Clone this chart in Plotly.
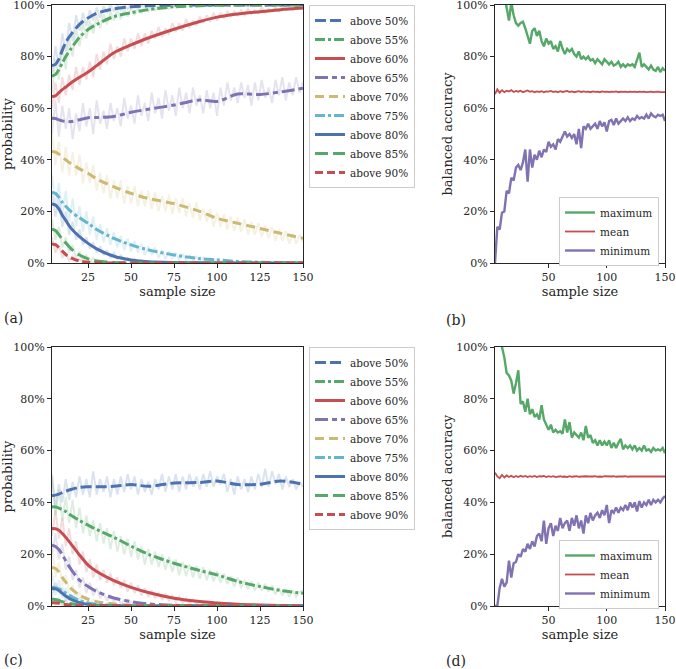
import plotly.graph_objects as go

# ---------------- data ----------------
x_raw = list(range(4, 151, 2))
x_smooth = [4, 6, 8, 10, 12, 15, 20, 25, 30, 40, 50, 60, 75, 90, 100, 112, 125, 137, 150]

labels = ["above 50%", "above 55%", "above 60%", "above 65%", "above 70%",
          "above 75%", "above 80%", "above 85%", "above 90%"]
colors = ["#4C72B0", "#55A868", "#C44E52", "#8172B2", "#CCB974",
          "#64B5CD", "#4C72B0", "#55A868", "#C44E52"]
dashes = ["11px,4px", "10px,3px,3px,3px", "solid", "13px,4px,5px,4px", "9px,5px",
          "10px,3px,3px,3px", "solid", "13px,5px", "8px,4px"]

# panel (a) smoothed curves
a50 = [76.5, 77, 79, 82.5, 85.5, 88.5, 92.5, 95, 96.8, 98.5, 99.3, 99.7, 99.9, 100, 100, 100, 100, 100, 100]
a55 = [72.5, 73, 75, 77.5, 80, 83, 87.5, 90.5, 92.5, 95.5, 97, 98.2, 99.3, 99.7, 99.9, 100, 100, 100, 100]
a60 = [64.5, 64.8, 66, 67.2, 68.2, 69.8, 72, 74, 76.5, 81.5, 84.5, 87.2, 90.6, 93.6, 95.3, 96.5, 97.4, 98.2, 98.8]
a65 = [56.1, 56, 55.5, 55.1, 54.9, 54.8, 55.5, 56.3, 56.4, 56.8, 58.4, 59.6, 61.2, 63.2, 62.6, 65.5, 65.3, 66.3, 67.7]
a70 = [43.2, 43, 42.2, 41, 40, 38.5, 36.5, 34.8, 32.6, 29.5, 27, 25, 23, 20, 17.3, 15.4, 13.4, 11.5, 9.6]
a75 = [27.3, 27, 25.5, 23.5, 22, 20, 17.5, 15.4, 13, 9.5, 7, 5.1, 3.1, 1.7, 1.2, 0.6, 0.3, 0.1, 0]
a80 = [22.9, 22.5, 21, 18.5, 16.5, 13.5, 10.2, 7.6, 5.5, 2.6, 1.2, 0.5, 0.2, 0.05, 0, 0, 0, 0, 0]
a85 = [13.1, 12.6, 11, 9.2, 7.8, 5.6, 3.1, 1.6, 0.8, 0.2, 0.05, 0, 0, 0, 0, 0, 0, 0, 0]
a90 = [7.4, 7.1, 6, 4.6, 3.3, 2, 0.8, 0.3, 0.1, 0, 0, 0, 0, 0, 0, 0, 0, 0, 0]

# panel (a) raw (noisy) curves, sampled every 2 from x=4
ra50 = [72, 84, 76, 89, 82, 93, 86, 96, 90, 97, 92, 98, 94, 99, 95, 99.5, 97, 100, 97.5, 100,
        98, 100, 98.5, 100, 99, 100, 99.5, 100, 99.5]
ra55 = [66, 79, 71, 84, 75, 87, 80, 91, 84, 93, 87, 94, 89, 96, 91, 96.5, 92.5, 97.5, 94, 98,
        94.5, 98.5, 95.5, 99, 96, 99, 97, 99.5, 97.5, 99.5, 98, 100, 98.5, 100, 98.5, 100, 99, 100,
        99, 100, 99.5, 100, 99.5, 100, 99.5, 100, 99.8]
ra60 = [60, 70, 62, 72, 65, 73, 67, 76, 69, 76, 71, 78, 72, 81, 75, 82, 77, 85, 79, 84,
        80, 87, 82, 87, 83, 89, 84, 89, 85, 90, 87, 91.5, 87.5, 91, 88.5, 93, 89.5, 93, 90, 94.5,
        91, 94, 92, 95.5, 93, 96, 93.5, 97, 94, 97, 95, 97.5, 95.5, 97.5, 96, 98, 96, 98.5,
        96.5, 98, 97, 99, 97, 98.5, 97.5, 99, 97.5, 99.5, 98, 99, 98, 99.5, 98.5, 99]
ra65 = [50, 63, 49, 61, 52, 60, 48, 58, 51, 62, 53, 60, 50, 63, 54, 59, 52, 62, 55, 60,
        53, 64, 56, 61, 54, 65, 57, 62, 55, 66, 58, 64, 56, 67, 59, 65, 57, 68, 60, 66,
        58, 68, 61, 65, 58, 67, 60, 66, 57, 68, 61, 70, 63, 68, 62, 70, 64, 69, 61, 70,
        63, 71, 64, 68, 62, 71, 65, 72, 63, 70, 65, 72, 66, 70]
ra70 = [50, 38, 47, 35, 45, 34, 43, 34, 42, 31, 39, 31, 38, 28, 35, 27, 34, 25, 32, 25,
        32, 23, 30, 23, 30, 22, 28, 22, 28, 21, 27.5, 20, 26, 20, 26.5, 19, 25, 19.5, 25, 18,
        23, 17.5, 23.5, 16.5, 21, 16, 21, 14, 19.5, 14, 19, 13, 18, 12.5, 17.5, 12, 17, 11,
        16, 11, 15.5, 10, 14.5, 9.5, 14, 8.5, 13, 8.5, 12.5, 7.5, 11.5, 7.5, 11, 8]
ra75 = [34, 22, 31, 18, 28, 16, 25, 14, 22, 12, 20, 11, 18, 9, 15, 8, 13.5, 7, 12, 6,
        10.5, 5, 9.5, 4.5, 8.5, 4, 7.5, 3, 6.5, 3, 6, 2, 5, 1.5, 4.5, 1.5, 4, 1, 3.5, 1,
        3, 0.8, 2.5, 0.5, 2, 0.5, 1.8, 0.3, 1.5, 0.3, 1.2, 0.2, 1, 0.2, 0.8, 0.1, 0.6, 0.1, 0.4]
ra80 = [27, 18, 25, 14, 20, 11, 16, 9, 13, 7, 10, 5.5, 8, 4, 6.5, 3, 5, 2, 4, 1.5,
        3, 1, 2, 0.5, 1.5, 0.3, 1, 0.2, 0.6]
ra85 = [17, 9, 14, 6, 10, 4, 7, 2, 4.5, 1, 3, 0.5, 2, 0.3, 1, 0.2, 0.6, 0.1, 0.3]
ra90 = [10, 4, 7, 2, 4, 1, 2.5, 0.5, 1.5, 0.2, 0.8, 0.1, 0.4, 0]

# panel (c) smoothed curves
c50 = [42.6, 42.8, 43.2, 43.8, 44.3, 45, 45.8, 46, 46, 46.2, 46.9, 46.2, 47.5, 47.7, 48.3, 46.9, 47, 48.3, 47]
c55 = [38.3, 38.2, 37.8, 37.2, 36.5, 35, 33, 31.2, 29.5, 26.5, 23.1, 20, 16.5, 13.7, 12, 9.5, 7.5, 6, 4.9]
c60 = [29.9, 29.8, 29.2, 28, 26.5, 24, 19.7, 15.8, 13.3, 9.8, 7.2, 5.2, 3, 1.7, 1.2, 0.7, 0.4, 0.2, 0.1]
c65 = [23.5, 23, 21.8, 19.8, 17.5, 14.2, 10, 7.5, 5.6, 3.1, 1.7, 0.8, 0.3, 0.1, 0, 0, 0, 0, 0]
c70 = [14.9, 14.5, 13.2, 11, 9.2, 6.8, 4.2, 2.6, 1.7, 0.8, 0.3, 0.1, 0, 0, 0, 0, 0, 0, 0]
c75 = [7.2, 7.1, 6.6, 5.8, 5, 3.8, 2.1, 1.2, 0.7, 0.2, 0.05, 0, 0, 0, 0, 0, 0, 0, 0]
c80 = [6.8, 6.6, 6, 4.9, 3.9, 2.6, 1.3, 0.6, 0.3, 0.05, 0, 0, 0, 0, 0, 0, 0, 0, 0]
c85 = [2.6, 2.5, 2.1, 1.7, 1.3, 0.9, 0.4, 0.2, 0.1, 0, 0, 0, 0, 0, 0, 0, 0, 0, 0]
c90 = [1.3, 1.25, 1.1, 0.8, 0.6, 0.4, 0.15, 0.05, 0, 0, 0, 0, 0, 0, 0, 0, 0, 0, 0]

# panel (c) raw (noisy) curves
rc50 = [50, 38, 47, 40, 49, 41, 48, 42, 50, 43, 49, 42, 52, 43, 49, 44, 50, 42, 49, 43,
        50, 44, 51, 45, 50, 43, 49, 44, 48, 43, 49, 45, 51, 44, 50, 45, 51, 44, 50, 45,
        51, 46, 50, 45, 51, 46, 52, 46, 50, 47, 51, 44, 49, 43, 50, 45, 49, 44, 50, 45,
        51, 46, 53, 46, 52, 47, 51, 45, 50, 46, 49, 45, 48, 46]
rc55 = [51, 35, 45, 33, 42, 32, 41, 30, 38, 28, 35, 27, 33, 25, 32, 24, 30, 22, 29, 21,
        27, 20, 26, 19, 25, 18, 23, 16, 22, 16, 21, 15, 20, 14, 19, 13, 18, 12, 17, 11.5,
        16, 11, 15.5, 10.5, 15, 10, 14, 9.5, 13.5, 9, 12.5, 8.5, 11.5, 7.5, 11, 7, 10, 6.5,
        9.5, 6, 9, 6, 8.5, 5.5, 8, 4.5, 7, 4, 6.5, 3.5, 6, 3.5, 5.5, 6]
rc60 = [27, 37, 26, 34, 23, 30, 20, 25, 16, 21, 13, 18, 11, 16, 10, 14, 9, 12.5, 8, 11,
        7, 10, 5.5, 9, 5, 8, 4, 7, 3.5, 6, 3, 5, 2.5, 4.5, 2, 4, 1.5, 3.5, 1.2, 3,
        1, 2.5, 0.8, 2, 0.6, 1.6, 0.5, 1.3, 0.4, 1, 0.3, 0.8, 0.2, 0.5]
rc65 = [20, 28, 18, 24, 14, 19, 10, 14, 7, 11, 5, 9, 4, 7, 3, 5, 2, 4, 1.5, 3,
        1, 2.2, 0.8, 1.8, 0.5, 1.2, 0.3, 0.8, 0.2]
rc70 = [22, 11, 17, 8, 12, 5, 8, 3, 5.5, 1.5, 3.5, 1, 2.5, 0.5, 1.5, 0.3, 1, 0.2, 0.5]
rc75 = [13, 4, 10, 3, 7, 2, 4.5, 1, 3, 0.5, 1.5, 0.3, 0.8, 0.1]
rc80 = [4, 9, 5, 7, 2, 4, 1, 2.5, 0.5, 1.5, 0.3, 0.8, 0.1, 0.4]
rc85 = [4, 1.5, 3, 1, 2, 0.5, 1, 0.2, 0.5]
rc90 = [2, 0.5, 1.5, 0.3, 0.8, 0.1, 0.3]

# panel (b) balanced accuracy (x = 4..150 step 2)
b_max = [112, 110, 108, 106, 104, 99, 94, 101, 96, 93, 92, 93, 93.5, 91, 88, 85, 90, 91, 88, 90,
         86, 84, 87, 85, 86, 83, 84, 82, 86, 83, 81, 83, 82, 83, 81, 80, 82, 79, 80, 79,
         80, 78.5, 79, 77.5, 79, 78, 77, 79, 78, 77, 78, 76.5, 77, 78, 76, 77, 76, 77,
         76.5, 77, 76, 79, 81.5, 76, 77, 76, 75, 76.5, 75, 74.5, 76, 74, 75.5, 74.5]
b_mean = [65.5, 67.3, 66, 67, 66.2, 66.8, 66.5, 67, 66.3, 66.7, 66.4, 66.8, 66.2, 66.6, 66.9, 66.4,
          66.6, 66.2, 66.5, 66.3, 66.6, 66.2, 66.5, 66.4, 66.7, 66.3, 66.5, 66.2, 66.6, 66.3,
          66.4, 66.7, 66.3, 66.5, 66.2, 66.4, 66.6, 66.3, 66.5, 66.3, 66.4, 66.2, 66.5, 66.3,
          66.4, 66.2, 66.5, 66.3, 66.4, 66.2, 66.4, 66.3, 66.5, 66.2, 66.4, 66.3, 66.4, 66.2,
          66.4, 66.3, 66.4, 66.2, 66.4, 66.3, 66.4, 66.2, 66.3, 66.4, 66.2, 66.3, 66.4, 66.2,
          66.3, 66.2]
b_min = [0, 14, 13, 19.5, 20, 28, 27, 33, 32, 37, 38, 36, 39, 44, 31.5, 44, 37, 42, 40, 43.5,
         41, 44, 43, 47, 45, 46, 44, 48, 47, 49, 51, 49, 50, 48.5, 50, 46, 52, 44.5, 53, 52,
         54, 52, 53, 54, 52, 55, 53, 54.5, 51, 55, 55.5, 53.5, 56, 54, 55, 56, 55, 56.5,
         55, 56, 55.5, 57, 56, 56.5, 56, 57.5, 56, 58, 57, 56.5, 57.5, 57, 57.5, 55]

# panel (d) balanced accuracy
d_max = [115, 112, 108, 100, 96, 90, 89, 87, 82, 86, 91, 78, 79, 75, 80, 74, 76, 73, 74, 72,
         77.5, 72, 70, 68, 70, 67, 68, 67, 67.5, 66.5, 72, 67, 71, 65, 67, 66, 65, 67, 64, 69.5,
         65, 66, 63, 64, 62, 64, 62, 63.5, 62, 64, 61, 63, 61, 63, 64.5, 60.5, 62, 61,
         62, 60.5, 62, 60, 61, 60, 62, 60, 60.5, 59.5, 61, 60, 60.5, 60, 61, 59]
d_mean = [51.5, 50, 49.3, 50.6, 49.6, 50.4, 49.8, 50.3, 49.7, 50.2, 49.8, 50.3, 49.9, 50.2, 49.8,
          50.1, 49.9, 50.2, 49.8, 50.1, 50, 50.2, 49.8, 50.1, 49.9, 50.1, 49.8, 50, 50.1, 49.9,
          50, 49.8, 50.1, 49.9, 50, 50.1, 49.9, 50, 49.9, 50.1, 50, 49.9, 50, 50.1, 49.9, 50,
          49.9, 50.1, 50, 49.9, 50, 50.1, 49.9, 50, 49.9, 50, 50.1, 49.9, 50, 50, 49.9, 50,
          50.1, 49.9, 50, 50, 49.9, 50, 50, 49.9, 50, 50, 49.9, 50]
d_min = [0, 0, 7, 10.5, 7.5, 9, 17.5, 11, 16.5, 17, 20, 19, 22, 21, 24, 22, 25, 23, 27, 28,
         25, 33, 24, 30, 32, 27, 31, 29, 34, 30, 32, 33, 29, 34, 31, 35, 30, 33, 28, 35,
         32, 36, 33, 35, 36, 34, 37, 35, 39, 32, 37, 36, 38, 36, 38, 37, 39, 37, 40, 38,
         40, 36.5, 40.5, 38, 40, 39, 41, 39, 41, 40, 41, 40, 41.5, 42.5]

acc_labels = ["maximum", "mean", "minimum"]
acc_colors = ["#55A868", "#C44E52", "#8172B2"]

x_ticks_left = [25, 50, 75, 100, 125, 150]
x_ticks_right = [50, 100, 150]
y_ticks = [0, 20, 40, 60, 80, 100]
y_ticktext = ["0%", "20%", "40%", "60%", "80%", "100%"]

smooth_a = [a50, a55, a60, a65, a70, a75, a80, a85, a90]
raw_a = [ra50, ra55, ra60, ra65, ra70, ra75, ra80, ra85, ra90]
smooth_c = [c50, c55, c60, c65, c70, c75, c80, c85, c90]
raw_c = [rc50, rc55, rc60, rc65, rc70, rc75, rc80, rc85, rc90]


def faint(hex_color, alpha=0.2):
    h = hex_color.lstrip("#")
    r, g, b = int(h[0:2], 16), int(h[2:4], 16), int(h[4:6], 16)
    return f"rgba({r},{g},{b},{alpha})"


fig = go.Figure()

for smooth, raw, xa, ya, leg in [(smooth_a, raw_a, "x", "y", "legend"),
                                 (smooth_c, raw_c, "x3", "y3", "legend2")]:
    for i in range(9):
        fig.add_trace(go.Scatter(
            x=x_raw[:len(raw[i])], y=raw[i], mode="lines",
            line=dict(color=faint(colors[i]), width=2),
            xaxis=xa, yaxis=ya, showlegend=False, hoverinfo="skip"))
    for i in range(9):
        fig.add_trace(go.Scatter(
            x=x_smooth, y=smooth[i], mode="lines", name=labels[i],
            line=dict(color=colors[i], width=3, dash=dashes[i], shape="spline", smoothing=0.8),
            xaxis=xa, yaxis=ya, legend=leg))

for series, xa, ya, leg in [((b_max, b_mean, b_min), "x2", "y2", "legend3"),
                            ((d_max, d_mean, d_min), "x4", "y4", "legend4")]:
    for j in range(3):
        fig.add_trace(go.Scatter(
            x=x_raw, y=series[j], mode="lines", name=acc_labels[j],
            line=dict(color=acc_colors[j], width=2.4 if j != 1 else 1.8),
            xaxis=xa, yaxis=ya, legend=leg))

FONT = "DejaVu Serif"
TXT = "#262626"
W, H = 676, 669

dom_x_left = [52 / W, 303 / W]
dom_x_right = [495 / W, 665 / W]
dom_y_top = [1 - 263 / H, 1 - 5 / H]
dom_y_bot = [1 - 606 / H, 1 - 347 / H]


def xax(domain, anchor, ticks):
    return dict(domain=domain, anchor=anchor, range=[4, 150], tickvals=ticks,
                automargin=False, ticklabeloverflow="allow",
                showline=True, mirror=True, linecolor=TXT, linewidth=1.2,
                ticks="outside", ticklen=4, tickwidth=1, tickcolor=TXT,
                showgrid=False, zeroline=False,
                tickfont=dict(family=FONT, size=11, color=TXT),
                title=dict(text="sample size", standoff=0,
                           font=dict(family=FONT, size=13, color=TXT)))


def yax(domain, anchor, title):
    return dict(domain=domain, anchor=anchor, range=[0, 100], tickvals=y_ticks, ticktext=y_ticktext,
                automargin=False, ticklabeloverflow="allow",
                showline=True, mirror=True, linecolor=TXT, linewidth=1.2,
                ticks="outside", ticklen=4, tickwidth=1, tickcolor=TXT,
                showgrid=False, zeroline=False,
                tickfont=dict(family=FONT, size=11, color=TXT),
                title=dict(text=title, standoff=0,
                           font=dict(family=FONT, size=13, color=TXT)))


def leg(x, y):
    return dict(x=x, y=y, xanchor="left", yanchor="top", bgcolor="white",
                bordercolor="#cccccc", borderwidth=1, tracegroupgap=0,
                font=dict(family=FONT, size=10.5, color=TXT), itemwidth=30)


fig.update_layout(
    template="none",
    width=W, height=H, margin=dict(l=0, r=0, t=0, b=0, pad=0),
    paper_bgcolor="white", plot_bgcolor="white",
    font=dict(family=FONT, color=TXT),
    xaxis=xax(dom_x_left, "y", x_ticks_left),
    yaxis=yax(dom_y_top, "x", "probability"),
    xaxis2=xax(dom_x_right, "y2", x_ticks_right),
    yaxis2=yax(dom_y_top, "x2", "balanced accuracy"),
    xaxis3=xax(dom_x_left, "y3", x_ticks_left),
    yaxis3=yax(dom_y_bot, "x3", "probability"),
    xaxis4=xax(dom_x_right, "y4", x_ticks_right),
    yaxis4=yax(dom_y_bot, "x4", "balanced accuracy"),
    legend=leg(309 / W, 1 - 5 / H),
    legend2=leg(309 / W, 1 - 347 / H),
    legend3=leg(559 / W, 1 - 197 / H),
    legend4=leg(559 / W, 1 - 540 / H),
    annotations=[
        dict(text="(a)", x=2 / W, y=1 - 318 / H, xref="paper", yref="paper",
             xanchor="left", yanchor="middle", showarrow=False, font=dict(family=FONT, size=14, color=TXT)),
        dict(text="(b)", x=444 / W, y=1 - 320 / H, xref="paper", yref="paper",
             xanchor="left", yanchor="middle", showarrow=False, font=dict(family=FONT, size=14, color=TXT)),
        dict(text="(c)", x=2 / W, y=1 - 660 / H, xref="paper", yref="paper",
             xanchor="left", yanchor="middle", showarrow=False, font=dict(family=FONT, size=14, color=TXT)),
        dict(text="(d)", x=444 / W, y=1 - 661 / H, xref="paper", yref="paper",
             xanchor="left", yanchor="middle", showarrow=False, font=dict(family=FONT, size=14, color=TXT)),
    ],
)

fig.write_html("out.html", config={"displayModeBar": False},
               post_script="document.body.style.margin='0px';document.body.style.padding='0px';")
